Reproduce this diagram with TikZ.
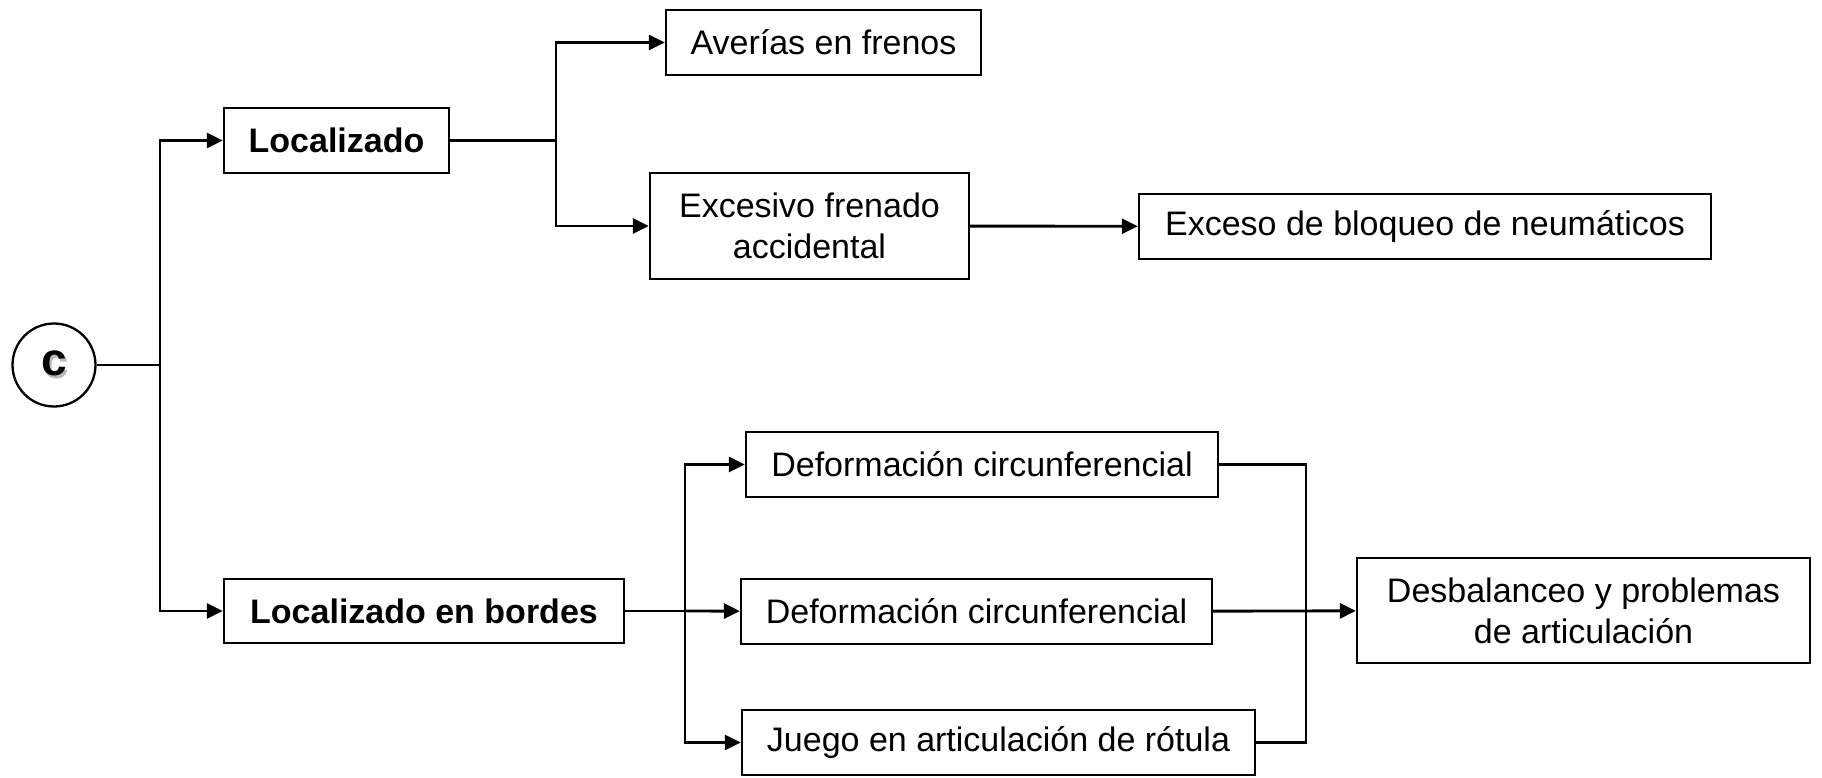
\documentclass[tikz,border=0pt]{standalone}
\usepackage{fontspec}
\setmainfont{Liberation Sans}
\usetikzlibrary{arrows.meta}
\definecolor{shadowgray}{gray}{0.72}
\begin{document}
\begin{tikzpicture}[x=1pt,y=-1pt,
  box/.style={draw, line width=2.3pt, inner sep=0pt, align=center,
    font=\fontsize{34}{41}\selectfont},
  conn/.style={line width=2.9pt},
  arr/.style={conn, -{Triangle[length=16pt,width=15pt]}}]
\fill[white] (0,0) rectangle (1822,778);
\useasboundingbox (0,0) rectangle (1822,778);

% nodes
\node[draw, circle, line width=2.3pt, minimum size=83pt, inner sep=0pt,
  font=\fontsize{46}{50}\selectfont\bfseries] (c) at (54,365)
  {\rlap{\kern2.5pt\raisebox{-2.5pt}{\color{shadowgray}c}}c};

\node[box, minimum width=225pt, minimum height=65pt, font=\fontsize{34}{41}\selectfont\bfseries] (loc) at (336.5,140.5) {Localizado};
\node[box, minimum width=315pt, minimum height=65pt] (aver) at (823.5,42.5) {Averías en frenos};
\node[box, minimum width=319pt, minimum height=106pt] (exc) at (809.5,226) {Excesivo frenado\\accidental};
\node[box, minimum width=572pt, minimum height=65pt] (excb) at (1425,226.5) {Exceso de bloqueo de neumáticos};

\node[box, minimum width=400pt, minimum height=64pt, font=\fontsize{34}{41}\selectfont\bfseries] (bord) at (424,611) {Localizado en bordes};
\node[box, minimum width=472pt, minimum height=65pt] (def1) at (982,464.5) {Deformación circunferencial};
\node[box, minimum width=471pt, minimum height=65pt] (def2) at (976.5,611.5) {Deformación circunferencial};
\node[box, minimum width=513pt, minimum height=65pt] (jue) at (998.5,742.5) {Juego en articulación de rótula};
\node[box, minimum width=453pt, minimum height=105pt] (des) at (1583.5,610.5) {Desbalanceo y problemas\\de articulación};

% junction points
\coordinate (t) at (160,365);
\coordinate (l1) at (556,140.5);
\coordinate (b1) at (685,611);
\coordinate (m1) at (1306,611.5);

% connectors
\draw[conn] (c) -- (t);
\draw[arr] (t) |- (loc);
\draw[arr] (t) |- (bord);

\draw[conn] (loc) -- (l1);
\draw[arr] (l1) |- (aver);
\draw[arr] (l1) |- (exc);
\draw[arr] (exc) -- (excb);

\draw[conn] (bord) -- (b1);
\draw[arr] (b1) |- (def1);
\draw[arr] (b1) -- (def2);
\draw[arr] (b1) |- (jue);

\draw[conn] (def1) -| (m1);
\draw[conn] (jue) -| (m1);
\draw[arr] (def2) -- (des);
\end{tikzpicture}
\end{document}
